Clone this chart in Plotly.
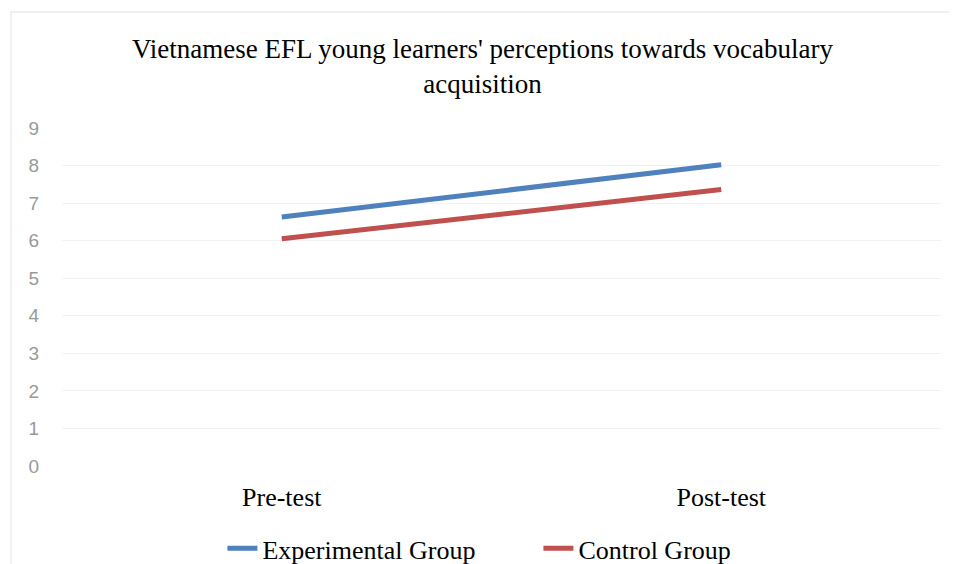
import plotly.graph_objects as go

categories = ["Pre-test", "Post-test"]
experimental = [6.63, 8.02]
control = [6.05, 7.36]
y_ticks = list(range(0, 10))

fig = go.Figure()
fig.add_trace(go.Scatter(x=categories, y=experimental, mode="lines", name="Experimental Group",
                         line=dict(color="#4F81BD", width=5)))
fig.add_trace(go.Scatter(x=categories, y=control, mode="lines", name="Control Group",
                         line=dict(color="#C0504D", width=5)))

fig.update_layout(
    width=949, height=556,
    paper_bgcolor="white", plot_bgcolor="white",
    margin=dict(l=54, r=16, t=120, b=98, autoexpand=False),
    title=dict(text="Vietnamese EFL young learners' perceptions towards vocabulary<br>acquisition",
               x=0.5, xanchor="center", y=0.91, yanchor="middle",
               font=dict(family="Liberation Serif", size=27, color="black")),
    showlegend=True,
    legend=dict(orientation="h", x=0.542, xanchor="center", y=-0.244, yanchor="middle",
                font=dict(family="Liberation Serif", size=26, color="black"),
                itemwidth=30, entrywidth=271, bgcolor="rgba(0,0,0,0)"),
    shapes=[dict(type="rect", xref="paper", yref="paper", x0=-0.058, x1=1.2, y0=-0.6, y1=1.343,
                 line=dict(color="#ececec", width=1.5), fillcolor="rgba(0,0,0,0)", layer="below")],
)
fig.update_xaxes(type="category", range=[-0.5, 1.5], showgrid=False, showline=False, zeroline=False,
                 ticks="", ticklabelstandoff=13,
                 tickfont=dict(family="Liberation Serif", size=26, color="black"))
fig.update_yaxes(range=[0, 9], tickvals=y_ticks, showgrid=True, gridcolor="#f2f2f2", gridwidth=1,
                 zeroline=False, showline=False, ticks="", ticklabelstandoff=22,
                 tickfont=dict(family="Liberation Sans", size=19, color="#999999"))

fig.write_html("out.html")
